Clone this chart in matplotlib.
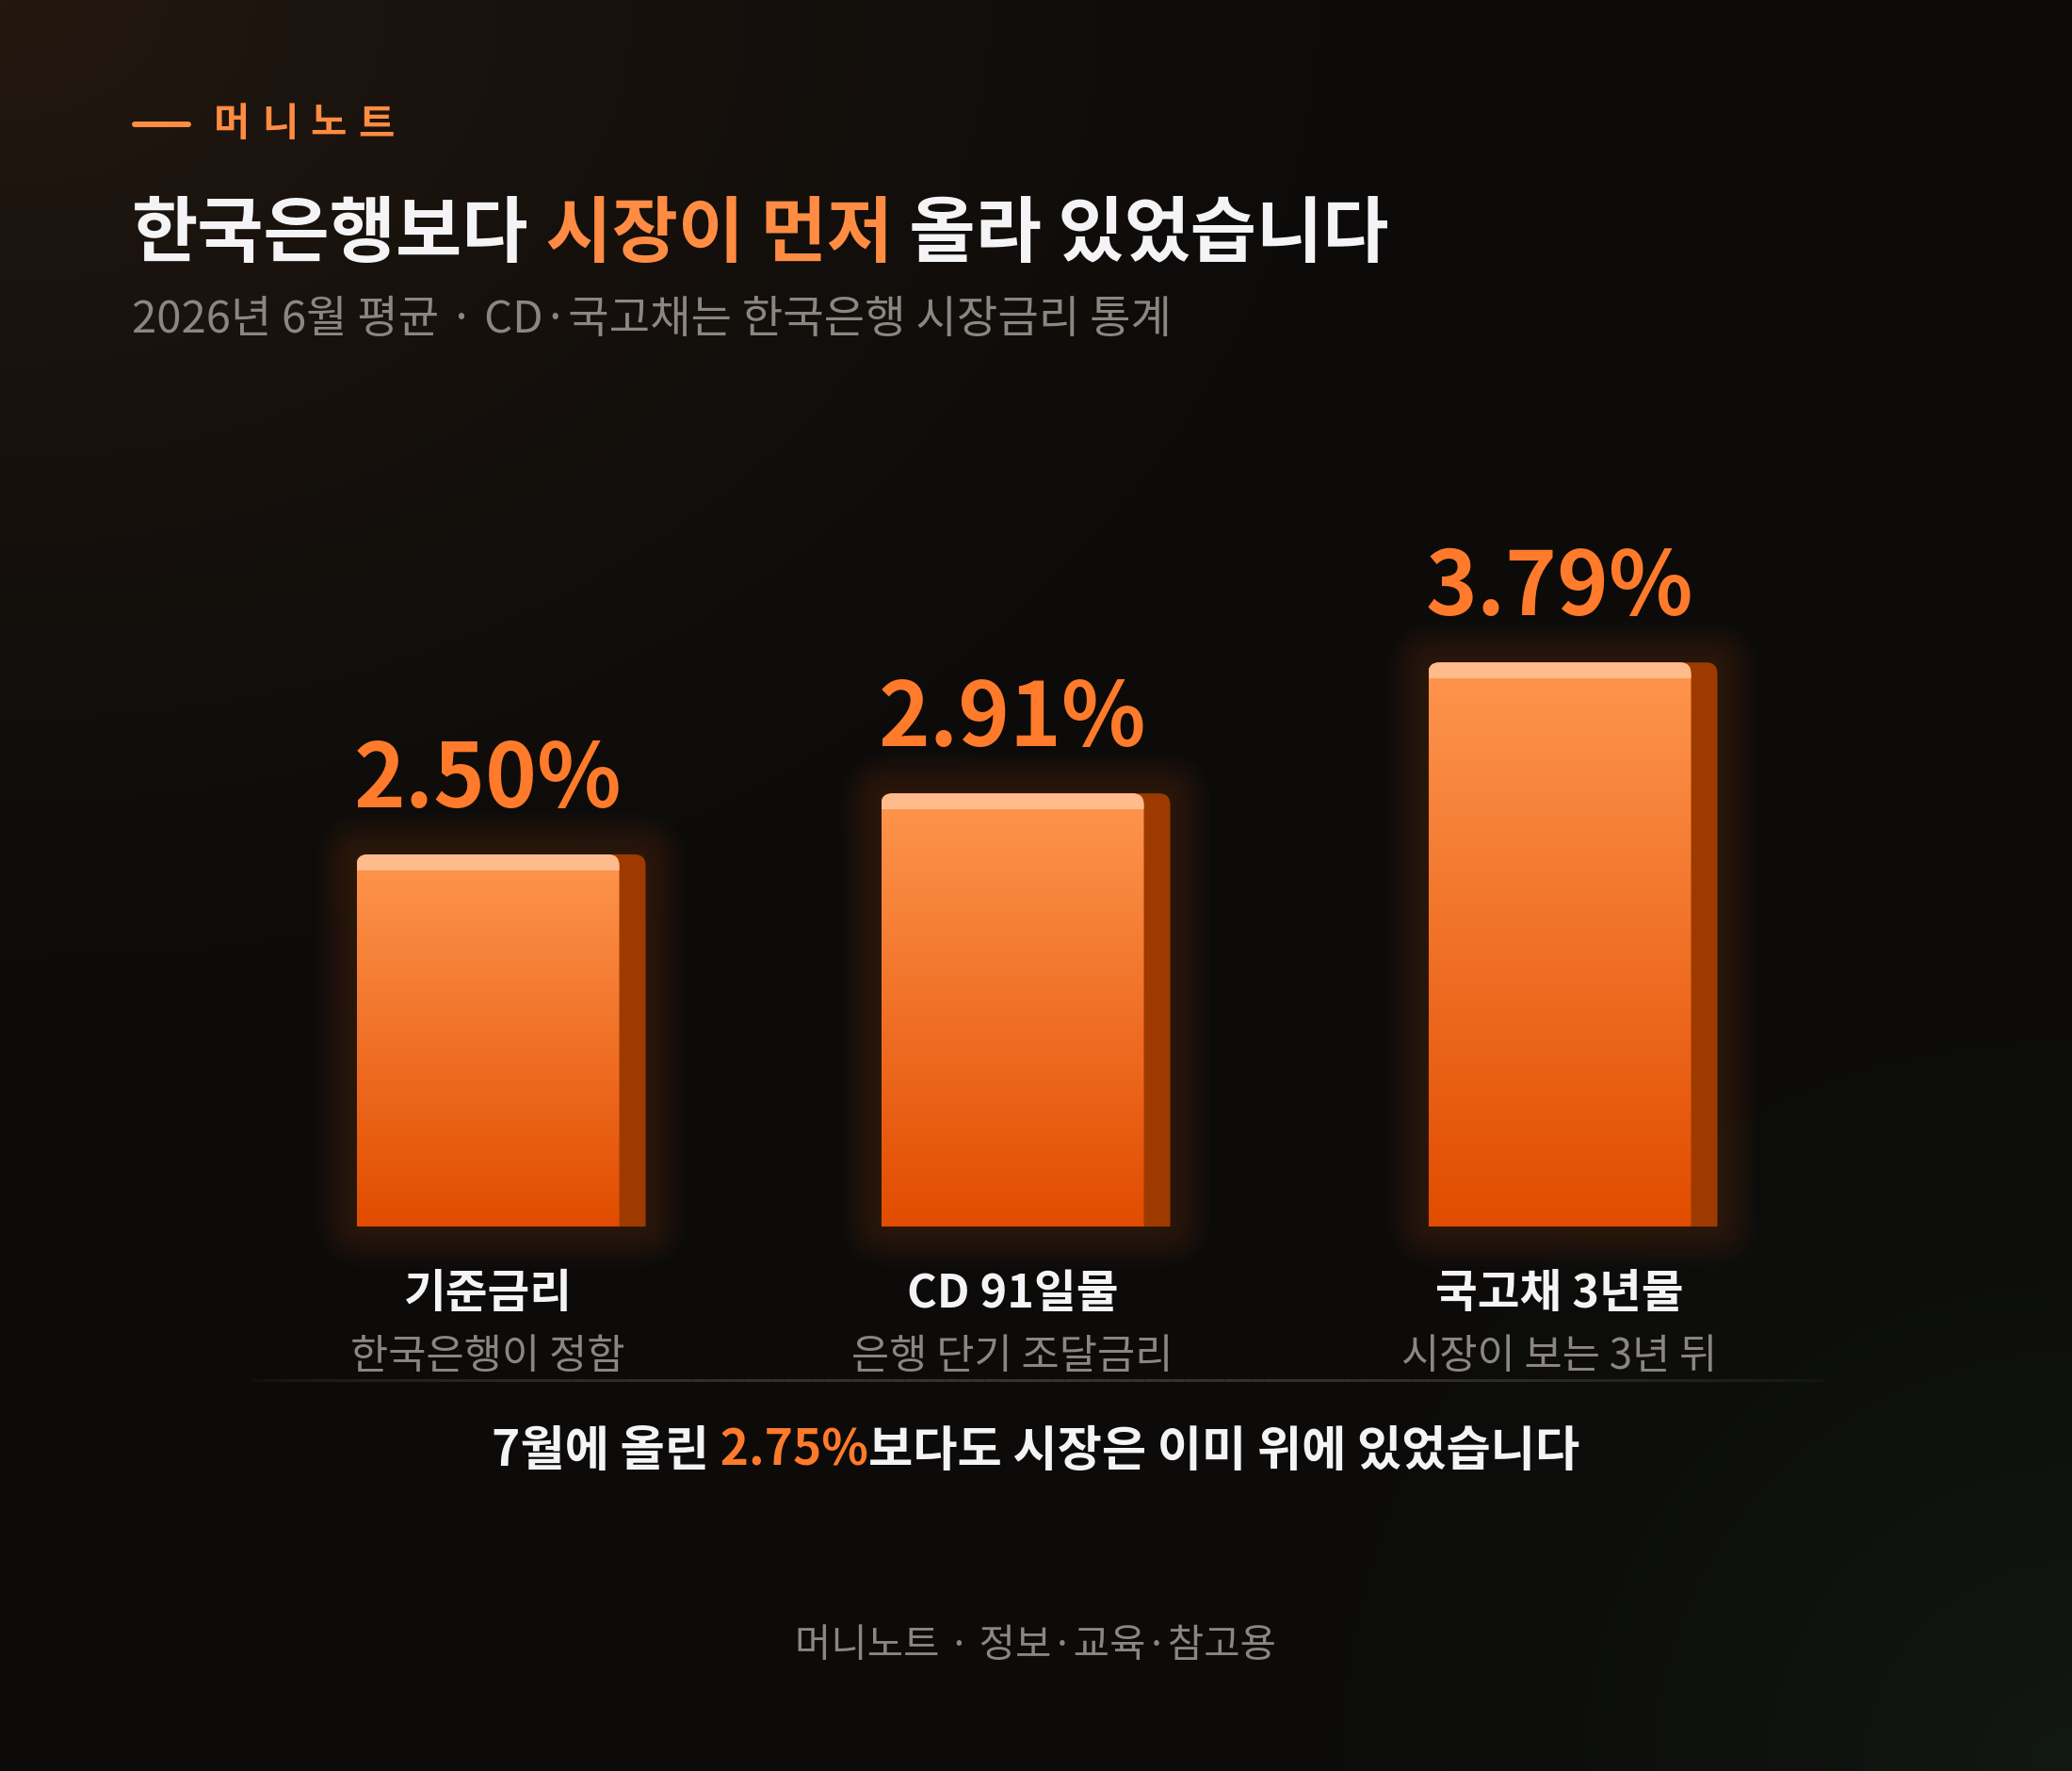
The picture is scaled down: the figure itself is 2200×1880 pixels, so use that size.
"""
금리 비교 카드: 기준금리 vs CD 91일물 vs 국고채 3년물 (2026년 6월 평균)
다크 배경 + 주황 그라데이션 막대, out.png 로 저장.
"""
import numpy as np
import matplotlib
matplotlib.use("Agg")
import matplotlib.pyplot as plt
from matplotlib.patches import FancyBboxPatch, Rectangle
from matplotlib.lines import Line2D
from matplotlib.collections import LineCollection

plt.rcParams["font.family"] = ["Noto Sans CJK KR", "DejaVu Sans"]

# ---- 데이터 ----
categories = ["기준금리", "CD 91일물", "국고채 3년물"]
notes = ["한국은행이 정함", "은행 단기 조달금리", "시장이 보는 3년 뒤"]
rates = [2.50, 2.91, 3.79]
hike_rate = 2.75

brand = "머니노트"
title_parts = ["한국은행보다", " 시장이 먼저", " 올라 있었습니다"]
subtitle = "2026년 6월 평균 · CD·국고채는 한국은행 시장금리 통계"
footer = "머니노트 · 정보·교육·참고용"

# ---- 레이아웃 (픽셀, 위에서부터) ----
W, H = 2200, 1880
BASE_Y = 1302          # 0 % 라인
PX_PER_PCT = 158       # 1 %p 당 픽셀
X_POS = [518, 1075, 1656]
BAR_W = 279
DEPTH = 28
RADIUS = 12

ORANGE = "#ff7a2a"
ORANGE_T = "#ff8c42"
WHITE = "#f4f4f6"
GRAY = "#8c8680"


def fy(y):
    return 1 - y / H


fig = plt.figure(figsize=(W / 100, H / 100), dpi=100)

# 배경 그라데이션
bg = fig.add_axes([0, 0, 1, 1], zorder=-5)
yy, xx = np.mgrid[0:H:4, 0:W:4]
base = np.array([12, 11, 10]) / 255
warm = np.array([35, 24, 16]) / 255
cool = np.array([18, 24, 18]) / 255
w1 = np.clip(1 - np.hypot(xx * 0.8, yy * 1.1) / 1400, 0, 1) ** 1.6
w2 = np.clip(1 - np.hypot(W - xx, H - yy) / 950, 0, 1) ** 1.5
img = base + w1[..., None] * (warm - base) + w2[..., None] * (cool - base)
bg.imshow(np.clip(img, 0, 1), extent=[0, 1, 0, 1], aspect="auto")
bg.axis("off")

# 막대 축: x는 픽셀, y는 %
ax = fig.add_axes([0, 0, 1, 1])
ax.set_xlim(0, W)
ax.set_ylim((BASE_Y - H) / PX_PER_PCT, BASE_Y / PX_PER_PCT)
ax.axis("off")
ax.patch.set_alpha(0)

asp = 1 / PX_PER_PCT
r_y = RADIUS / PX_PER_PCT

grad = np.linspace(0, 1, 256)[:, None]
c_top = np.array([255, 150, 78]) / 255
c_bot = np.array([225, 76, 0]) / 255
grad_img = (c_top * (1 - grad[..., None]) + c_bot * grad[..., None])  # 위 -> 아래

for xc, v in zip(X_POS, rates):
    x0 = xc - BAR_W / 2
    # 은은한 글로우
    for i in range(11):
        p = 3 + i * 4
        ax.add_patch(FancyBboxPatch(
            (x0, 0), BAR_W + DEPTH, v,
            boxstyle=f"round,pad={p},rounding_size={RADIUS + p}",
            mutation_aspect=asp, fc="#e07a34", ec="none", alpha=0.015, zorder=1))
    floor = Rectangle((0, 0), W, 20, transform=ax.transData)
    # 옆면
    side = FancyBboxPatch((x0 + DEPTH, -r_y), BAR_W, v + r_y,
                          boxstyle=f"round,pad=0,rounding_size={RADIUS}",
                          mutation_aspect=asp, fc="#9e3a00", ec="none", zorder=2)
    ax.add_patch(side)
    side.set_clip_path(floor)
    # 앞면 (그라데이션)
    face = FancyBboxPatch((x0, -r_y), BAR_W, v + r_y,
                          boxstyle=f"round,pad=0,rounding_size={RADIUS}",
                          mutation_aspect=asp, fc="none", ec="none", zorder=3)
    ax.add_patch(face)
    im = ax.imshow(grad_img, extent=[x0, x0 + BAR_W, 0, v], aspect="auto",
                   zorder=3, interpolation="bilinear")
    im.set_clip_path(face)
    hl = Rectangle((x0, v - 17 / PX_PER_PCT), BAR_W, 17 / PX_PER_PCT,
                   fc="#ffbb8c", ec="none", zorder=4)
    ax.add_patch(hl)
    hl.set_clip_path(face)

    ax.annotate(f"{v:.2f}%", xy=(xc, v), xytext=(0, 36), textcoords="offset points",
                ha="center", va="baseline", fontsize=67, fontweight="bold",
                color=ORANGE, zorder=5)

for xc, cat, note in zip(X_POS, categories, notes):
    ax.annotate(cat, xy=(xc, 0), xytext=(0, -71 * 0.72), textcoords="offset points",
                ha="center", va="center", fontsize=35, fontweight="bold", color=WHITE)
    ax.annotate(note, xy=(xc, 0), xytext=(0, -138 * 0.72), textcoords="offset points",
                ha="center", va="center", fontsize=31.5, color=GRAY)

# 구분선 (양끝이 흐려짐)
sep_y = (BASE_Y - 1465) / PX_PER_PCT
xs = np.linspace(253, 1936, 120)
segs = [[(xs[i], sep_y), (xs[i + 1], sep_y)] for i in range(len(xs) - 1)]
t = (xs[:-1] - xs[0]) / (xs[-1] - xs[0])
alphas = np.sin(np.pi * t) ** 0.5
cols = [(0.22, 0.20, 0.18, a) for a in alphas]
ax.add_collection(LineCollection(segs, colors=cols, linewidths=2.2))

# ---- 텍스트 ----
renderer = fig.canvas.get_renderer()


def rich_line(x_px, base_px, parts, ha="left", **kw):
    texts = [fig.text(0, fy(base_px), s, color=c, ha="left", va="baseline", **kw)
             for s, c in parts]
    widths = [tx.get_window_extent(renderer).width for tx in texts]
    cur = x_px - sum(widths) / 2 if ha == "center" else x_px
    for tx, w in zip(texts, widths):
        tx.set_x(cur / W)
        cur += w


# 브랜드 (자간 넓게)
fig.add_artist(Line2D([143 / W, 200 / W], [fy(132)] * 2, lw=4.3, color=ORANGE_T,
                      solid_capstyle="round"))
for i, ch in enumerate(brand):
    fig.text((227 + i * 51) / W, fy(132), ch, ha="left", va="center", fontsize=30,
             fontweight="bold", color=ORANGE_T)

# 제목
rich_line(140, 272, list(zip(title_parts, [WHITE, ORANGE_T, WHITE])),
          fontsize=55, fontweight="bold")
fig.text(140 / W, fy(340), subtitle, ha="left", va="center", fontsize=34, color=GRAY)

# 요약 문장
summary = ["7월에 올린", f" {hike_rate:.2f}%", "보다도 시장은 이미 위에 있었습니다"]
rich_line(1100, 1556, list(zip(summary, [WHITE, ORANGE, WHITE])), ha="center",
          fontsize=37, fontweight="bold")

fig.text(0.5, fy(1748), footer, ha="center", va="center", fontsize=30, color=GRAY)

fig.savefig("out.png", dpi=100, facecolor="#0c0b0a")
